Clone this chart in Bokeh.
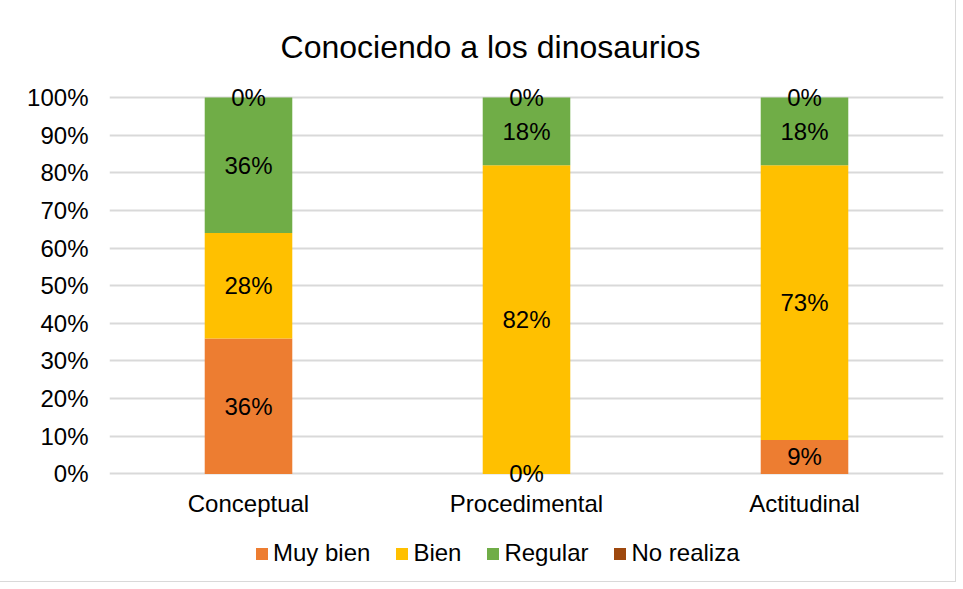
from bokeh.plotting import figure
from bokeh.models import (ColumnDataSource, Range1d, FactorRange, Legend, LegendItem,
                          Label, LabelSet, FixedTicker, PrintfTickFormatter)
from bokeh.core.properties import value
from bokeh.embed import file_html
from bokeh.resources import INLINE

title_text = "Conociendo a los dinosaurios"
categories = ["Conceptual", "Procedimental", "Actitudinal"]
series_names = ["Muy bien", "Bien", "Regular", "No realiza"]
muy_bien = [36, 0, 9]
bien = [28, 82, 73]
regular = [36, 18, 18]
no_realiza = [0, 0, 0]
colors = ["#ED7D31", "#FFC000", "#70AD47", "#9E480E"]
y_ticks = [0, 10, 20, 30, 40, 50, 60, 70, 80, 90, 100]

FONT = "Liberation Sans"
FS = "24px"

keys = ["muy_bien", "bien", "regular", "no_realiza"]
values = [muy_bien, bien, regular, no_realiza]
data = {"cat": categories}
for k, v in zip(keys, values):
    data[k] = v
src = ColumnDataSource(data)

# frame covers the full canvas height; the value axis still spans 0..100 via ticks/grid
p = figure(width=955, height=581, x_range=FactorRange(*categories, range_padding=0),
           y_range=Range1d(-28.6, 125.8), output_backend="svg", toolbar_location=None,
           min_border_left=109, min_border_right=12, min_border_top=0,
           min_border_bottom=0, title=None)
p.outline_line_color = None
p.styles = {"outline": "1px solid #d9d9d9"}

renderers = p.vbar_stack(keys, x="cat", width=0.315, color=colors, line_color=None, source=src)

# data labels
lx, ly, lt = [], [], []
for i, c in enumerate(categories):
    base = 0
    for v in values:
        val = v[i]
        lx.append(c)
        ly.append(base + val / 2)
        lt.append(f"{val}%")
        base += val
lab_src = ColumnDataSource(dict(x=lx, y=ly, t=lt))
p.add_layout(LabelSet(x="x", y="y", text="t", source=lab_src, text_align="center",
                      text_baseline="middle", text_font=value(FONT), text_font_size=value(FS),
                      text_color="#000000"))

# axes
p.yaxis.ticker = FixedTicker(ticks=y_ticks)
p.yaxis.formatter = PrintfTickFormatter(format="%d%%")
for ax in (p.xaxis, p.yaxis):
    ax.axis_line_color = None
    ax.major_tick_line_color = None
    ax.minor_tick_line_color = None
    ax.major_tick_in = 0
    ax.major_tick_out = 0
    ax.major_label_text_font = FONT
    ax.major_label_text_font_size = FS
    ax.major_label_text_color = "#000000"
p.yaxis.major_label_standoff = 21
p.xaxis.fixed_location = 0
p.xaxis.major_label_standoff = 16
p.xgrid.grid_line_color = None
p.ygrid.grid_line_color = "#d9d9d9"
p.ygrid.grid_line_width = 2

# title
p.add_layout(Label(x=381, y=535, x_units="screen", y_units="screen", text=title_text,
                   text_align="center", text_baseline="alphabetic", text_font=FONT,
                   text_font_size="32px", text_color="#000000"))

legend = Legend(items=[LegendItem(label=s, renderers=[r]) for s, r in zip(series_names, renderers)],
                orientation="horizontal", location=(145, 14), padding=0, margin=0,
                glyph_width=15, glyph_height=15, label_standoff=4, spacing=24,
                label_text_font=FONT, label_text_font_size=FS, label_text_color="#000000",
                border_line_color=None, background_fill_alpha=0)
p.add_layout(legend)

open("out.html", "w").write(file_html(p, INLINE))
